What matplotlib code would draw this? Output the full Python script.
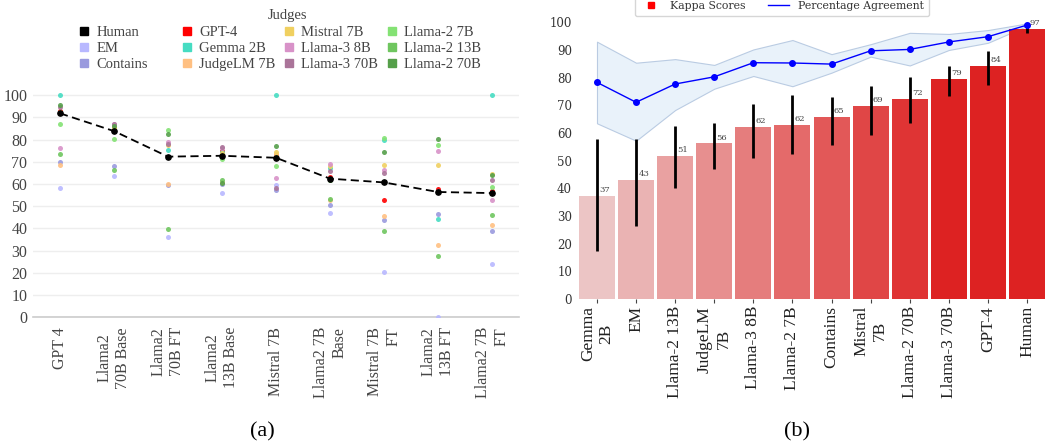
import matplotlib
matplotlib.use("Agg")
import matplotlib.pyplot as plt
import numpy as np
from matplotlib.lines import Line2D

# ---------------- data: panel (a) ----------------
models = ["GPT 4", "Llama2\n70B Base", "Llama2\n70B FT", "Llama2\n13B Base", "Mistral 7B",
          "Llama2 7B\nBase", "Mistral 7B\nFT", "Llama2\n13B FT", "Llama2 7B\nFT"]
model_align = ["center", "center", "left", "center", "center", "right", "right", "left", "right"]

judges = ["Human", "EM", "Contains", "GPT-4", "Gemma 2B", "JudgeLM 7B",
          "Mistral 7B", "Llama-3 8B", "Llama-3 70B", "Llama-2 7B", "Llama-2 13B", "Llama-2 70B"]
judge_colors = ["#000000", "#b8b8ff", "#9a9ade", "#ff0000", "#46dcc2", "#ffc082",
                "#f0d060", "#d892c8", "#aa7499", "#84e274", "#6fc65f", "#559f4a"]

human       = [91.8, 83.8, 72.3, 72.7, 71.8, 62.4, 60.7, 56.4, 55.9]
em          = [58.2, 63.7, 36.3, 56.0, 59.4, 46.8, 20.2, 0.0, 24.0]
contains    = [70.0, 68.0, 59.4, 60.0, 57.3, 50.7, 43.9, 46.3, 39.0]
gpt4        = [92.7, 85.3, 72.0, 75.0, 73.0, 63.3, 52.8, 57.6, 56.8]
gemma_2b    = [100.0, 84.5, 75.3, 74.4, 100.0, 67.2, 79.6, 44.2, 100.0]
judgelm_7b  = [68.4, 85.0, 60.0, 61.0, 73.5, 52.6, 45.6, 32.5, 41.5]
mistral_7b  = [92.5, 85.0, 77.5, 74.0, 74.5, 67.9, 68.5, 68.7, 64.6]
llama3_8b   = [76.2, 86.8, 78.7, 76.3, 62.5, 68.8, 66.1, 75.0, 52.9]
llama3_70b  = [94.6, 87.1, 78.0, 76.6, 58.0, 66.0, 65.1, 57.0, 61.6]
llama2_7b   = [86.8, 80.2, 84.3, 71.2, 68.2, 61.6, 80.7, 77.5, 58.6]
llama2_13b  = [73.5, 66.4, 39.6, 61.6, 72.0, 53.2, 39.0, 27.7, 46.0]
llama2_70b  = [95.4, 86.0, 82.3, 60.5, 77.1, 62.0, 74.2, 80.1, 64.0]
judge_scores = [human, em, contains, gpt4, gemma_2b, judgelm_7b, mistral_7b,
                llama3_8b, llama3_70b, llama2_7b, llama2_13b, llama2_70b]

# ---------------- data: panel (b) ----------------
kappa_labels = ["Gemma\n2B", "EM", "Llama-2 13B", "JudgeLM\n7B", "Llama-3 8B", "Llama-2 7B",
                "Contains", "Mistral\n7B", "Llama-2 70B", "Llama-3 70B", "GPT-4", "Human"]
kappa = [37.2, 43.1, 51.7, 56.3, 62.2, 62.9, 65.8, 69.8, 72.3, 79.5, 84.2, 97.6]
kappa_lo = [17.5, 26.4, 40.2, 47.0, 51.0, 52.5, 55.8, 59.3, 63.7, 73.4, 77.2, 96.2]
kappa_hi = [57.8, 57.7, 62.5, 63.5, 70.5, 73.7, 72.9, 76.9, 80.2, 84.2, 89.7, 98.4]
agree = [78.3, 71.1, 77.7, 80.3, 85.4, 85.3, 84.9, 89.7, 90.2, 92.9, 94.8, 99.0]
agree_lo = [63.5, 57.2, 68.3, 76.0, 80.6, 76.9, 81.8, 87.6, 84.4, 90.0, 92.6, 98.7]
agree_hi = [93.0, 85.4, 86.7, 84.6, 90.2, 93.6, 88.5, 92.1, 96.2, 95.8, 97.2, 99.6]

SERIF = "Liberation Serif"
W, H = 1045, 444
fig = plt.figure(figsize=(W / 100, H / 100), dpi=100)

def box(x0, y_top, x1, y_bot):
    return [x0 / W, 1 - y_bot / H, (x1 - x0) / W, (y_bot - y_top) / H]

# ================= panel (a) =================
axa = fig.add_axes(box(33, 84, 519, 317.3))
x = np.arange(len(models))
for name, col, vals in zip(judges, judge_colors, judge_scores):
    if name == "Human":
        continue
    axa.scatter(x, vals, s=13, color=col, alpha=0.9, linewidths=0, zorder=3)
axa.plot(x, human, color="black", lw=1.3, ls=(0, (4.5, 2.5)), marker="o", ms=3.8, zorder=5)
axa.set_xlim(-0.5, len(models) - 0.5)
axa.set_ylim(0, 105)
axa.set_yticks(np.arange(0, 101, 10))
axa.grid(axis="y", color="#eeeeee", lw=1)
axa.set_axisbelow(True)
for s in ["top", "right", "left"]:
    axa.spines[s].set_visible(False)
axa.spines["bottom"].set_color("#cccccc")
axa.spines["bottom"].set_linewidth(1.2)
axa.spines["bottom"].set_zorder(1)
axa.tick_params(axis="y", length=0, labelsize=11.5, labelcolor="#444444", pad=4)
axa.tick_params(axis="x", length=0, labelsize=11.5, labelcolor="#444444", pad=7)
axa.set_xticks(x)
axa.set_xticklabels(models, rotation=90, fontfamily=SERIF)
for t, al in zip(axa.get_xticklabels(), model_align):
    t.set_multialignment(al)
for t in axa.get_yticklabels():
    t.set_fontfamily(SERIF)

# legend for (a): four columns
fig.text(287 / W, 1 - 15 / H, "Judges", fontfamily=SERIF, fontsize=10.5,
         color="#444444", ha="center", va="center")
col_x = [78, 181, 283, 386]
for c in range(4):
    handles = []
    for r in range(3):
        k = c * 3 + r
        handles.append(Line2D([], [], ls="none", marker="s", ms=5.3,
                              color=judge_colors[k], label=judges[k]))
    lg = fig.legend(handles=handles, loc="upper left",
                    bbox_to_anchor=(col_x[c] / W, 1 - 26 / H), frameon=False,
                    prop={"family": SERIF, "size": 10.5}, handlelength=0.8,
                    handletextpad=0.45, labelspacing=0.2, borderpad=0, borderaxespad=0)
    for t in lg.get_texts():
        t.set_color("#444444")

fig.text(262 / W, 1 - 432 / H, "(a)", fontfamily=SERIF, fontsize=16, ha="center", va="center")

# ================= panel (b) =================
axb = fig.add_axes(box(579, 15.4, 1045, 299))
xb = np.arange(len(kappa_labels))
light = np.array([236, 197, 197]) / 255
dark = np.array([221, 34, 34]) / 255
tvals = np.clip(np.arange(len(kappa)) / 9.0, 0, 1)
bar_colors = [tuple(light + (dark - light) * t) for t in tvals]
axb.bar(xb, kappa, width=0.92, color=bar_colors, zorder=2)
axb.vlines(xb, kappa_lo, kappa_hi, color="black", lw=2, zorder=4)
for xi, v in zip(xb, kappa):
    axb.text(xi + 0.06, v + 0.6, str(int(v)), fontsize=6, color="#444444",
             fontfamily="DejaVu Serif", ha="left", va="bottom", zorder=6)
axb.fill_between(xb, agree_lo, agree_hi, color="#e6f0fa", alpha=0.85,
                 edgecolor="#b0c4de", lw=0.8, zorder=1)
axb.plot(xb, agree, color="blue", lw=1, marker="o", ms=4, zorder=5)
axb.set_xlim(-0.46, len(kappa) - 0.54)
axb.set_ylim(0, 102.5)
axb.set_yticks(np.arange(0, 101, 10))
for s in axb.spines.values():
    s.set_visible(False)
axb.tick_params(axis="y", length=0, labelsize=8.5, labelcolor="#333333", pad=5)
for t in axb.get_yticklabels():
    t.set_fontfamily("DejaVu Serif")
axb.set_xticks(xb)
axb.set_xticklabels(kappa_labels, rotation=90, fontfamily=SERIF, fontsize=12.5, color="#222222")
axb.tick_params(axis="x", length=3, width=0.8, color="#444444", pad=2)

lh = [Line2D([], [], ls="none", marker="s", ms=4, color="red", label="Kappa Scores"),
      Line2D([], [], color="blue", lw=1, label="Percentage Agreement")]
lgb = fig.legend(handles=lh, loc="lower center", bbox_to_anchor=(782 / W, 1 - 16 / H),
                 ncol=2, prop={"family": "DejaVu Serif", "size": 7.8}, frameon=True,
                 fancybox=True, edgecolor="#cccccc", borderaxespad=0, columnspacing=2.0,
                 borderpad=0.5, handlelength=2.0)
for t in lgb.get_texts():
    t.set_color("#333333")

fig.text(797 / W, 1 - 432 / H, "(b)", fontfamily=SERIF, fontsize=16, ha="center", va="center")

fig.savefig("out.png", dpi=100)
